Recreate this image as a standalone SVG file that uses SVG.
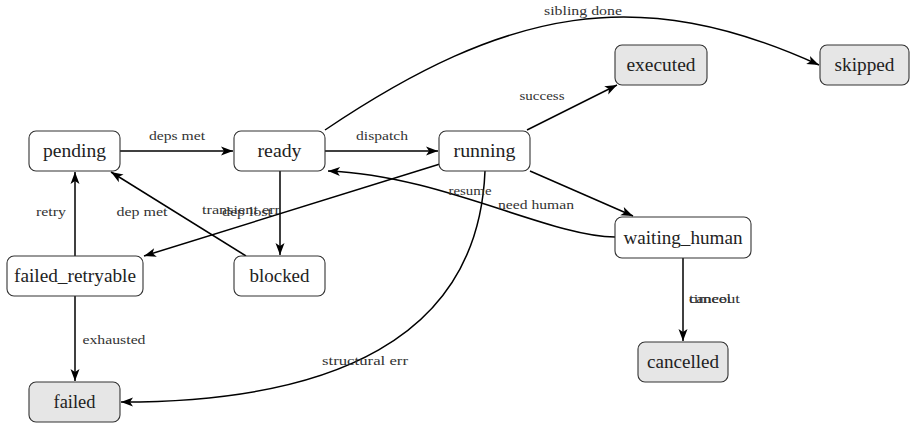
<svg xmlns="http://www.w3.org/2000/svg" width="918" height="445" viewBox="0 0 918 445">
<style>
.node rect{stroke:#333;stroke-width:1.1;fill:#fff}
.node.term rect{fill:#e6e6e6}
.node text{font-size:19px;fill:#222;text-anchor:middle}
.edges path{fill:none;stroke:#000;stroke-width:1.5;marker-end:url(#arr)}
.lbl{font-size:11.5px;fill:#333;text-anchor:middle}
.lbl.s{text-anchor:start}
</style>
<defs>
<marker id="arr" markerUnits="userSpaceOnUse" markerWidth="14" markerHeight="12" refX="12" refY="5" orient="auto" overflow="visible">
<path d="M0,0.5 L12,5 L0,9.5 L3,5 Z" fill="#000"/>
</marker>
</defs>
<rect width="918" height="445" fill="#fff"/>
<g class="edges">
<path d="M120,151 L233,151"/>
<path d="M325,151 L438,151"/>
<path d="M325,130 C508,7 639,-17 819,65"/>
<path d="M527,130 L617,85"/>
<path d="M530,171 L633,216"/>
<path d="M615,237 C550,237 440,175 328,171"/>
<path d="M440,164 L144,256"/>
<path d="M280,171 L280,255"/>
<path d="M246,256 L111,172"/>
<path d="M75,256 L75,172"/>
<path d="M75,296 L75,381"/>
<path d="M485,171 C478,340 330,402 121,402"/>
<path d="M683,258 L683,341"/>
</g>
<g class="labels" font-family="'Liberation Serif', 'Times New Roman', 'DejaVu Serif', serif">
<text class="lbl" x="177" y="140" textLength="56" lengthAdjust="spacingAndGlyphs">deps met</text>
<text class="lbl" x="382" y="140" textLength="52" lengthAdjust="spacingAndGlyphs">dispatch</text>
<text class="lbl" x="583" y="15" textLength="78" lengthAdjust="spacingAndGlyphs">sibling done</text>
<text class="lbl" x="542" y="100" textLength="45" lengthAdjust="spacingAndGlyphs">success</text>
<text class="lbl" x="536" y="209" textLength="76" lengthAdjust="spacingAndGlyphs">need human</text>
<text class="lbl" x="470" y="195" textLength="43" lengthAdjust="spacingAndGlyphs">resume</text>
<text class="lbl" x="241" y="214" textLength="78" lengthAdjust="spacingAndGlyphs">transient err</text>
<text class="lbl" x="247" y="216" textLength="50" lengthAdjust="spacingAndGlyphs">dep lost</text>
<text class="lbl" x="142" y="216" textLength="51" lengthAdjust="spacingAndGlyphs">dep met</text>
<text class="lbl" x="51" y="216" textLength="30" lengthAdjust="spacingAndGlyphs">retry</text>
<text class="lbl" x="114" y="344" textLength="63" lengthAdjust="spacingAndGlyphs">exhausted</text>
<text class="lbl" x="365" y="365" textLength="86" lengthAdjust="spacingAndGlyphs">structural err</text>
<text class="lbl s" x="689" y="303" textLength="51" lengthAdjust="spacingAndGlyphs">timeout</text>
<text class="lbl s" x="689" y="303" textLength="42" lengthAdjust="spacingAndGlyphs">cancel</text>
</g>
<g class="nodes" font-family="'Liberation Serif', 'Times New Roman', 'DejaVu Serif', serif">
<g id="pending" class="node"><rect x="29" y="131" width="91" height="40" rx="7"/><text x="74.5" y="157" textLength="63" lengthAdjust="spacingAndGlyphs">pending</text></g>
<g id="ready" class="node"><rect x="234" y="131" width="91" height="40" rx="7"/><text x="279.5" y="157" textLength="44" lengthAdjust="spacingAndGlyphs">ready</text></g>
<g id="running" class="node"><rect x="439" y="131" width="91" height="40" rx="7"/><text x="484.5" y="157" textLength="62" lengthAdjust="spacingAndGlyphs">running</text></g>
<g id="executed" class="node term"><rect x="615" y="45" width="92" height="40" rx="7"/><text x="661" y="71" textLength="69" lengthAdjust="spacingAndGlyphs">executed</text></g>
<g id="skipped" class="node term"><rect x="820" y="45" width="89" height="40" rx="7"/><text x="864.5" y="71" textLength="60" lengthAdjust="spacingAndGlyphs">skipped</text></g>
<g id="waiting_human" class="node"><rect x="615" y="217" width="136" height="41" rx="7"/><text x="683" y="243.5" textLength="119" lengthAdjust="spacingAndGlyphs">waiting_human</text></g>
<g id="failed_retryable" class="node"><rect x="7" y="256" width="136" height="40" rx="7"/><text x="75" y="282" textLength="122" lengthAdjust="spacingAndGlyphs">failed_retryable</text></g>
<g id="blocked" class="node"><rect x="234" y="256" width="91" height="40" rx="7"/><text x="279.5" y="282" textLength="60" lengthAdjust="spacingAndGlyphs">blocked</text></g>
<g id="cancelled" class="node term"><rect x="638" y="342" width="90" height="40" rx="7"/><text x="683" y="368" textLength="72" lengthAdjust="spacingAndGlyphs">cancelled</text></g>
<g id="failed" class="node term"><rect x="29" y="382" width="91" height="40" rx="7"/><text x="74.5" y="408" textLength="42" lengthAdjust="spacingAndGlyphs">failed</text></g>
</g>
</svg>
